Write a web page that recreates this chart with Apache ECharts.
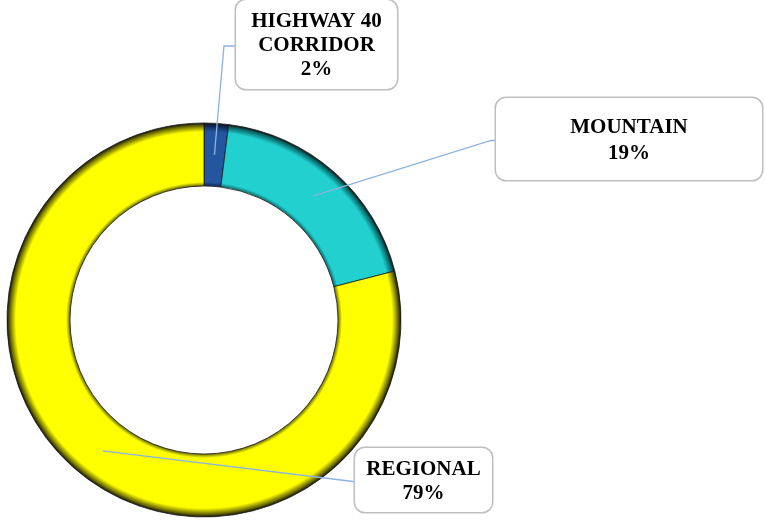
<!DOCTYPE html>
<html>
<head>
<meta charset="utf-8">
<script src="https://cdn.jsdelivr.net/npm/echarts@6/dist/echarts.min.js"></script>
<style>html,body{margin:0;padding:0;background:#fff}#c{width:765px;height:522px}</style>
</head>
<body>
<div id="c"></div>
<script>
const categories = ['HIGHWAY 40\nCORRIDOR', 'MOUNTAIN', 'REGIONAL'];
const values = [2, 19, 79];
const baseColors = ['#2456A0', '#22D0D0', '#FFFF00'];
const darkColors = ['#0d2a55', '#0b6a6a', '#6b6b00'];

const CX = 204, CY = 320, R_OUT = 197, R_IN = 134;
// label box placement (top-left), widths and paddings
const labelBoxes = [
  {x: 236, y: 0, width: 161, padding: [10, 0, 7, 0], lineHeight: 24},
  {x: 496, y: 98, width: 266, padding: [17, 0, 13, 0], lineHeight: 26},
  {x: 355, y: 448, width: 137, padding: [10, 0, 6, 0], lineHeight: 24}
];

const total = values.reduce((a, b) => a + b, 0);
function anchorFor(i) {
  let cum = 0;
  for (let k = 0; k < i; k++) cum += values[k];
  const mid = (cum + values[i] / 2) / total * Math.PI * 2;
  const r = (R_OUT + R_IN) / 2;
  return [CX + Math.sin(mid) * r, CY - Math.cos(mid) * r];
}

function grad(i) {
  const f = R_IN / R_OUT;
  return {
    type: 'radial', x: CX, y: CY, r: R_OUT, global: true,
    colorStops: [
      {offset: 0, color: darkColors[i]},
      {offset: f, color: darkColors[i]},
      {offset: f + 0.02, color: baseColors[i]},
      {offset: 0.955, color: baseColors[i]},
      {offset: 0.985, color: darkColors[i]},
      {offset: 1, color: '#111'}
    ]
  };
}

const chart = echarts.init(document.getElementById('c'), null, {renderer: 'canvas'});
chart.setOption({
  backgroundColor: '#fff',
  animation: false,
  series: [{
    type: 'pie',
    z: 2,
    center: [CX, CY],
    radius: [R_IN, R_OUT],
    startAngle: 90,
    clockwise: true,
    silent: true,
    itemStyle: {borderColor: '#1a1a1a', borderWidth: 0.8},
    label: {show: false},
    labelLine: {show: false},
    data: categories.map((n, i) => ({name: n, value: values[i], itemStyle: {color: grad(i)}}))
  }, {
    type: 'pie',
    z: 5,
    center: [CX, CY],
    radius: [R_IN, R_OUT],
    startAngle: 90,
    clockwise: true,
    silent: true,
    avoidLabelOverlap: false,
    itemStyle: {color: 'rgba(0,0,0,0)', borderWidth: 0},
    data: categories.map((n, i) => ({
      name: n,
      value: values[i],
      label: {
        width: labelBoxes[i].width,
        padding: labelBoxes[i].padding,
        lineHeight: labelBoxes[i].lineHeight
      }
    })),
    label: {
      show: true,
      formatter: p => p.name + '\n' + p.value + '%',
      fontFamily: '"Liberation Serif", "Times New Roman", serif',
      fontWeight: 'bold',
      fontSize: 21,
      color: '#000',
      align: 'center',
      backgroundColor: '#fff',
      borderColor: '#bfbfbf',
      borderWidth: 1.5,
      borderRadius: 10
    },
    labelLine: {show: true, showAbove: true, lineStyle: {color: '#8DB3E2', width: 1.3}, length: 10, length2: 10},
    labelLayout: function (params) {
      const i = params.dataIndex;
      const b = labelBoxes[i];
      const a = anchorFor(i);
      const h = params.labelRect.height;
      const ey = b.y + h / 2;
      const gap = [12, 5, 2][i];
      const pts = [a, [b.x - gap, ey], [b.x, ey]];
      return {x: b.x + b.width / 2, y: b.y, align: 'center', verticalAlign: 'top', labelLinePoints: pts};
    }
  }]
});
</script>
</body>
</html>
